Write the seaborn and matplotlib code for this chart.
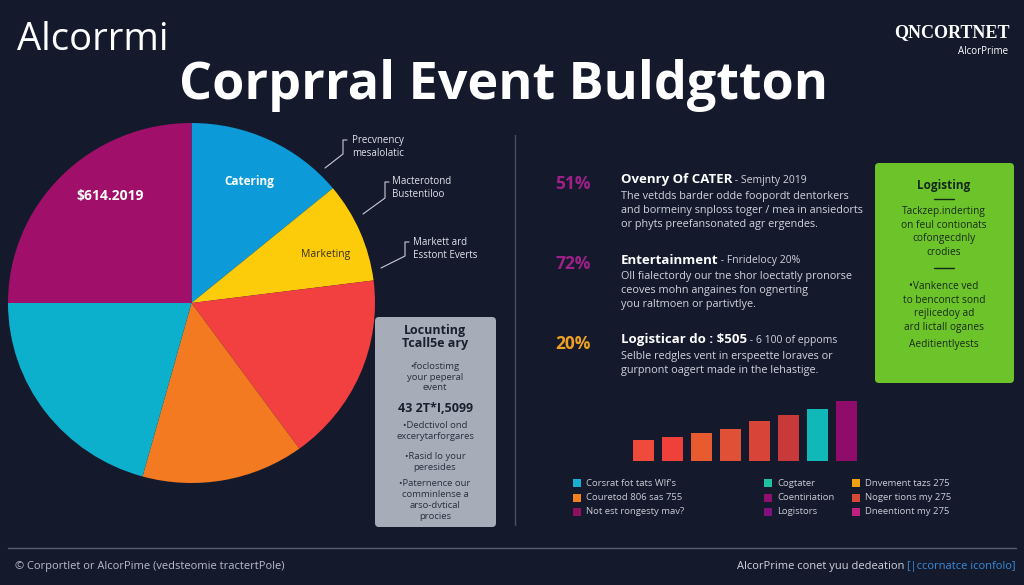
import matplotlib
matplotlib.use("Agg")
import matplotlib.pyplot as plt
from matplotlib.patches import FancyBboxPatch, Rectangle
import pandas as pd
import seaborn as sns

# data
pie_labels = ["Catering", "Marketing", "Events", "Venue", "Travel", "Budget"]
pie_values = [14.0, 9.0, 17.0, 14.3, 20.7, 25.0]
pie_colors = ["#0c9ad8", "#fccc0a", "#f24040", "#f47a22", "#0cb0cc", "#a0106a"]

bar_names = ["b1", "b2", "b3", "b4", "b5", "b6", "b7", "b8"]
bar_values = [21, 24, 28, 32, 40, 46, 52, 60]
bar_colors = ["#f04a3c", "#f0403a", "#e85a30", "#e05036", "#d84438", "#c83a3a", "#10b8b8", "#900c6a"]

stat_pcts = ["51%", "72%", "20%"]
stat_heads = ["Ovenry Of CATER", "Entertainment", "Logisticar do : $505"]
stat_subs = [" - Semjnty 2019", " - Fnridelocy 20%", " - 6 100 of eppoms"]
stat_body = [
    ["The vetdds barder odde foopordt dentorkers",
     "and bormeiny snploss toger / mea in ansiedorts",
     "or phyts preefansonated agr ergendes."],
    ["Oll fialectordy our tne shor loectatly pronorse",
     "ceoves mohn angaines fon ognerting",
     "you raltmoen or partivtlye."],
    ["Selble redgles vent in erspeette loraves or",
     "gurpnont oagert made in the lehastige."],
]

legend_labels = [
    ["Corsrat fot tats WIf's", "Couretod 806 sas 755", "Not est rongesty mav?"],
    ["Cogtater", "Coentiriation", "Logistors"],
    ["Dnvement tazs 275", "Noger tions my 275", "Dneentiont my 275"],
]
legend_colors = [
    ["#18b0d0", "#f08020", "#901060"],
    ["#20c0a0", "#901070", "#801080"],
    ["#f0a010", "#d84838", "#c02080"],
]

BG = "#141a2c"
sns.set_theme(style="dark")
plt.rcParams["font.family"] = ["Open Sans", "DejaVu Sans"]

W, H = 1024, 585
fig = plt.figure(figsize=(W / 100, H / 100), dpi=100, facecolor=BG)


def frac(x0, y0, x1, y1):
    return [x0 / W, 1 - y1 / H, (x1 - x0) / W, (y1 - y0) / H]


# pie
axp = fig.add_axes(frac(8, 123, 375, 483), zorder=1)
axp.pie(pie_values, colors=pie_colors, startangle=90, counterclock=False,
        wedgeprops=dict(linewidth=0))
axp.set_xlim(-1, 1)
axp.set_ylim(-1, 1)
axp.set_aspect("auto")
axp.axis("off")

# bars
axb = fig.add_axes(frac(629, 391, 861, 461), zorder=2)
bar_df = pd.DataFrame({"name": bar_names, "value": bar_values})
sns.barplot(data=bar_df, x="name", y="value", hue="name", palette=bar_colors,
            width=0.72, legend=False, ax=axb, saturation=1, linewidth=0)
axb.set_xlim(-0.5, 7.5)
axb.set_ylim(0, 70)
axb.axis("off")

# overlay in pixel coords
ax = fig.add_axes([0, 0, 1, 1], zorder=3)
ax.set_xlim(0, W)
ax.set_ylim(H, 0)
ax.axis("off")
ax.patch.set_alpha(0)

# header
ax.text(17, 40, "Alcorrmi", color="white", fontsize=27.5, family="Open Sans", va="center")
ax.text(179, 85, "Corprral Event Buldgtton", color="white", fontsize=37.5,
        family="Open Sans", weight="bold", va="center")
ax.text(1010, 33, "QNCORTNET", color="white", fontsize=13, family="Liberation Serif",
        weight="bold", ha="right", va="center")
ax.text(1008, 51, "AlcorPrime", color="white", fontsize=7, ha="right", va="center")

# pie labels
ax.text(110, 196, "$614.2019", color="white", fontsize=10, weight="bold", ha="center", va="center")
ax.text(249, 181, "Catering", color="white", fontsize=8.5, weight="bold", ha="center", va="center")
ax.text(326, 254, "Marketing", color="#3a3418", fontsize=7.5, ha="center", va="center")

# callouts
callouts = [
    ((352, 147), "Precvnency\nmesalolatic", [(347, 140), (343, 140), (343, 154), (325, 168)]),
    ((392, 188), "Macterotond\nBustentiloo", [(389, 182), (385, 182), (385, 198), (363, 214)]),
    ((413, 249), "Markett ard\nEsstont Everts", [(409, 242), (405, 242), (405, 256), (381, 268)]),
]
for (tx, ty), txt, pts in callouts:
    ax.text(tx, ty, txt, color="#e0e4ec", fontsize=7, va="center", linespacing=1.25)
    xs, ys = zip(*pts)
    ax.plot(xs, ys, color="#c8ccd4", lw=0.8)

# divider
ax.plot([515, 515], [135, 525], color="#4a5060", lw=1)

# gray box
ax.add_patch(FancyBboxPatch((375, 317), 121, 210, boxstyle="round,pad=0,rounding_size=4",
                            facecolor="#a6adb8", edgecolor="none"))
gx = 435
ax.text(gx, 337, "Locunting\nTcall5e ary", color="#1a2030", fontsize=9, weight="bold",
        ha="center", va="center", linespacing=1.0)
ax.text(gx, 377, "•foclostimg\nyour peperal\nevent", color="#2a3040", fontsize=6.8,
        ha="center", va="center", linespacing=1.25)
ax.text(gx, 408, "43 2T*I,5099", color="#1a2030", fontsize=9, weight="bold", ha="center", va="center")
ax.text(gx, 431, "•Dedctivol ond\nexcerytarforgares", color="#2a3040", fontsize=6.8,
        ha="center", va="center", linespacing=1.25)
ax.text(gx, 462, "•Rasid lo your\nperesides", color="#2a3040", fontsize=6.8,
        ha="center", va="center", linespacing=1.25)
ax.text(gx, 500, "•Paternence our\ncomminlense a\narso-dvtical\nprocies", color="#2a3040",
        fontsize=6.8, ha="center", va="center", linespacing=1.25)

# stats
pct_colors = ["#a0208a", "#a0208a", "#f0a020"]
head_y = [180, 260, 340]
for i in range(3):
    y = head_y[i]
    ax.text(555, y + 4, stat_pcts[i], color=pct_colors[i], fontsize=12.5, weight="bold", va="center")
    t = ax.text(621, y, stat_heads[i], color="white", fontsize=9.5, weight="bold", va="center")
    ax.annotate(stat_subs[i], xycoords=t, xy=(1, 0.5), va="center", color="#d0d4dc", fontsize=7.5)
    for j, line in enumerate(stat_body[i]):
        ax.text(621, y + 17 + j * 13.5, line, color="#d0d4dc", fontsize=7.8, va="center")

# green box
ax.add_patch(FancyBboxPatch((875, 163), 139, 220, boxstyle="round,pad=0,rounding_size=4",
                            facecolor="#6cc42a", edgecolor="none"))
cx = 944
ax.text(cx, 186, "Logisting", color="#14281a", fontsize=8.5, weight="bold", ha="center", va="center")
ax.plot([934, 954], [199, 199], color="#14281a", lw=1)
ax.text(cx, 232, "Tackzep.inderting\non feul contionats\ncofongecdnly\ncrodies", color="#1a2a18",
        fontsize=7.3, ha="center", va="center", linespacing=1.3)
ax.plot([934, 954], [268, 268], color="#14281a", lw=1)
ax.text(cx, 307, "•Vankence ved\nto benconct sond\nrejlicedoy ad\nard lictall oganes", color="#1a2a18",
        fontsize=7.3, ha="center", va="center", linespacing=1.3)
ax.text(cx, 345, "Aeditientlyests", color="#1a2a18", fontsize=7.3, ha="center", va="center")

# legend
col_x = [573, 764, 852]
for c in range(3):
    for r in range(3):
        y = 483 + r * 14.5
        ax.add_patch(Rectangle((col_x[c], y - 4), 8, 8, facecolor=legend_colors[c][r], edgecolor="none"))
        ax.text(col_x[c] + 13, y, legend_labels[c][r], color="#c8ccd4", fontsize=6.8, va="center")

# footer
ax.plot([8, 1016], [548, 548], color="#5a6070", lw=1)
ax.text(15, 566, "© Corportlet or AlcorPime (vedsteomie tractertPole)", color="#b8bcc8",
        fontsize=8, va="center")
t2 = ax.text(1016, 566, "[|ccornatce iconfolo]", color="#3a8ad8", fontsize=8, ha="right", va="center")
ax.annotate("AlcorPrime conet yuu dedeation ", xycoords=t2, xy=(0, 0.5), ha="right", va="center",
            color="#d0d4dc", fontsize=8)

fig.savefig("out.png", dpi=100, facecolor=BG)
